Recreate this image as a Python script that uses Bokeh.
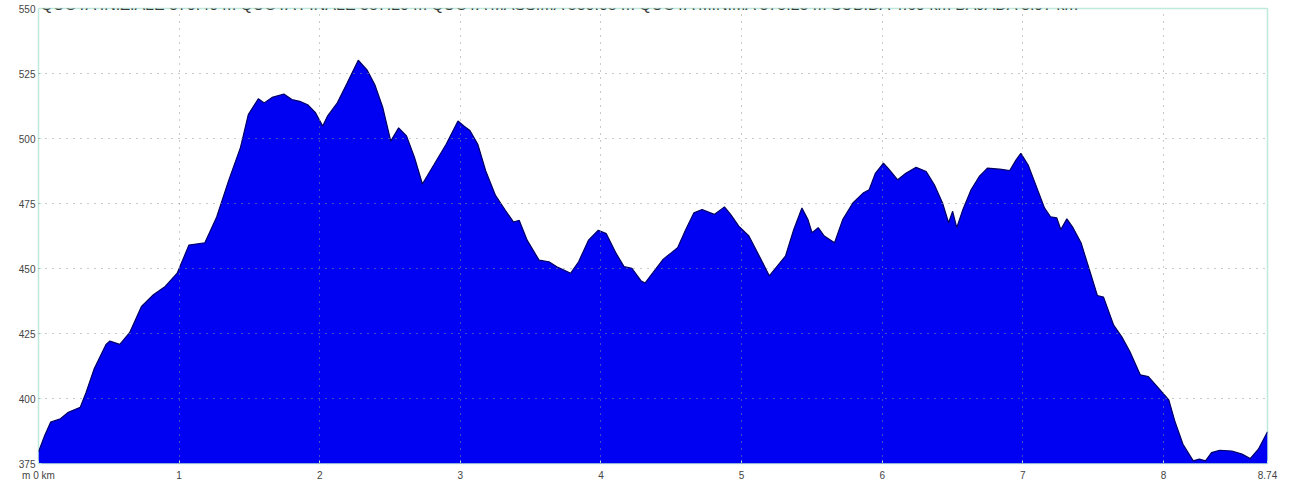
from bokeh.plotting import figure
from bokeh.models import FixedTicker, Range1d, Label
from bokeh.embed import file_html
from bokeh.resources import INLINE

km = [0.0, 0.044, 0.086, 0.156, 0.212, 0.297, 0.339, 0.395, 0.48, 0.508, 0.578, 0.648,
      0.732, 0.817, 0.901, 0.986, 1.07, 1.183, 1.267, 1.352, 1.436, 1.492, 1.563, 1.605,
      1.661, 1.745, 1.802, 1.858, 1.914, 1.97, 2.021, 2.055, 2.125, 2.195, 2.274, 2.336,
      2.392, 2.449, 2.505, 2.561, 2.617, 2.674, 2.73, 2.814, 2.899, 2.983, 3.025, 3.068,
      3.124, 3.18, 3.25, 3.321, 3.377, 3.419, 3.475, 3.56, 3.63, 3.686, 3.785, 3.841,
      3.911, 3.981, 4.038, 4.108, 4.164, 4.22, 4.284, 4.313, 4.371, 4.443, 4.501, 4.545,
      4.603, 4.661, 4.719, 4.806, 4.878, 4.922, 4.98, 5.052, 5.125, 5.197, 5.255, 5.313,
      5.371, 5.429, 5.472, 5.501, 5.545, 5.588, 5.661, 5.719, 5.791, 5.864, 5.907, 5.951,
      6.009, 6.052, 6.11, 6.168, 6.241, 6.313, 6.371, 6.429, 6.472, 6.501, 6.53, 6.574,
      6.632, 6.69, 6.748, 6.835, 6.907, 6.951, 6.986, 7.038, 7.096, 7.154, 7.197, 7.241,
      7.27, 7.313, 7.357, 7.414, 7.472, 7.53, 7.574, 7.646, 7.704, 7.762, 7.835, 7.893,
      7.965, 8.038, 8.081, 8.139, 8.212, 8.255, 8.299, 8.342, 8.4, 8.487, 8.559, 8.617,
      8.675, 8.74]
elev = [379.5, 385.8, 390.9, 392.2, 394.7, 396.6, 402.4, 411.3, 420.8, 422.1, 420.8, 425.3,
        435.4, 439.9, 443.1, 448.2, 459.0, 459.9, 469.8, 483.8, 496.5, 509.2, 515.3, 513.7,
        515.8, 517.1, 515.0, 514.3, 513.0, 509.9, 504.8, 508.6, 513.7, 521.3, 530.1, 526.4,
        520.7, 511.8, 499.0, 504.1, 501.0, 492.7, 482.5, 490.1, 497.8, 506.7, 504.8, 503.1,
        497.8, 487.6, 478.1, 472.3, 467.9, 468.5, 460.9, 453.2, 452.6, 450.7, 448.2, 452.6,
        460.9, 464.7, 463.4, 455.8, 450.7, 450.1, 445.3, 444.4, 448.5, 453.6, 456.1, 458.0,
        465.0, 471.4, 472.7, 470.8, 473.7, 470.8, 466.3, 462.5, 454.9, 447.2, 451.0, 454.9,
        465.0, 473.3, 468.8, 463.8, 465.7, 462.5, 459.9, 468.8, 475.2, 479.0, 480.3, 486.6,
        490.5, 487.9, 484.1, 486.6, 488.9, 487.3, 482.2, 475.2, 467.6, 472.0, 465.7, 472.7,
        480.3, 485.4, 488.6, 488.2, 487.7, 491.7, 494.3, 489.8, 481.6, 473.3, 469.9, 469.5,
        465.0, 469.1, 465.7, 459.9, 449.8, 439.6, 439.0, 428.2, 423.7, 418.0, 409.1, 408.4,
        404.0, 399.5, 391.3, 382.4, 376.0, 376.7, 376.0, 379.2, 380.1, 379.8, 378.6, 376.9,
        380.5, 387.2]

y_ticks = [375, 400, 425, 450, 475, 500, 525, 550]
x_ticks = [0, 1, 2, 3, 4, 5, 6, 7, 8, 8.74]
x_tick_labels = {0: "m 0 km", 8.74: "8.74"}
title_text = ("QUOTA INIZIALE 379.40 m QUOTA FINALE 387.20 m QUOTA MASSIMA 530.08 m "
              "QUOTA MINIMA 375.23 m SUBIDA 4.69 km BAJADA 3.97 km")

p = figure(frame_width=1229, frame_height=455, output_backend="svg", toolbar_location=None,
           x_range=Range1d(0, 8.74), y_range=Range1d(375, 550),
           min_border_left=38, min_border_right=14, min_border_top=8, min_border_bottom=18,
           background_fill_color="white", border_fill_color="white")

p.varea(x=km, y1=375, y2=elev, fill_color="#0000f2")
p.line(x=km, y=elev, line_color="#000066", line_width=1.2)

p.outline_line_color = "#bfe9dc"
p.outline_line_width = 1.5

for ax in (p.xaxis[0], p.yaxis[0]):
    ax.axis_line_color = None
    ax.major_tick_line_color = "#bfe9dc"
    ax.major_tick_in = 3
    ax.major_tick_out = 0
    ax.minor_tick_line_color = None
    ax.major_label_text_font = "Liberation Sans"
    ax.major_label_text_font_size = "10px"
    ax.major_label_text_color = "#444444"

p.xaxis.ticker = FixedTicker(ticks=x_ticks)
p.xaxis.major_label_overrides = x_tick_labels
p.xaxis.major_label_standoff = 6
p.yaxis.ticker = FixedTicker(ticks=y_ticks)
p.yaxis.major_label_standoff = 3
p.yaxis.major_label_text_baseline = "alphabetic"

for g in (p.xgrid[0], p.ygrid[0]):
    g.grid_line_color = "#8c9696"
    g.grid_line_dash = "1 6"
    g.grid_line_width = 1
    g.level = "overlay"

p.add_layout(Label(x=2, y=459, x_units="screen", y_units="screen", text=title_text,
                   text_font="Liberation Sans", text_font_size="16px",
                   text_color="#3a3a3a", text_baseline="alphabetic"))

open("out.html", "w").write(file_html(p, INLINE))
